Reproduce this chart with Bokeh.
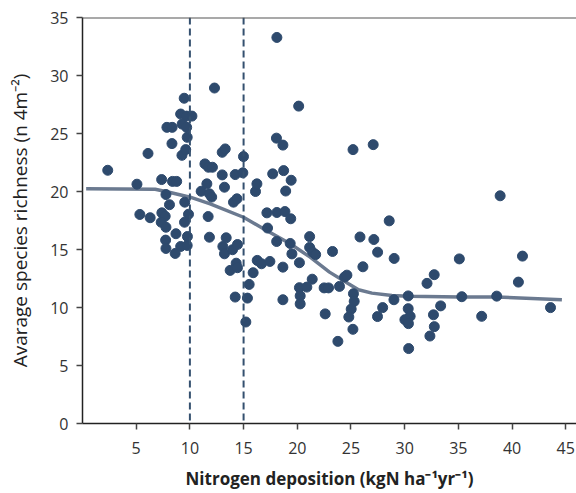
from bokeh.plotting import figure
from bokeh.models import Span, FixedTicker, Range1d
from bokeh.embed import file_html
from bokeh.resources import INLINE

# Data
nitrogen = [
    2.35, 5.07, 5.34, 6.10, 6.30, 7.37, 7.77, 8.10, 7.39, 7.70, 7.33, 7.77, 8.70, 7.74, 7.77,
    8.63, 9.14, 9.75, 9.77, 9.52, 9.87, 9.50, 7.86, 8.35, 8.33, 8.38, 8.77, 9.26, 9.47, 9.14,
    9.70, 10.19, 9.28, 9.70, 9.75, 9.61,
    12.29, 11.05, 11.40, 11.58, 11.73, 12.10, 11.82, 12.03, 13.01, 13.22, 13.01, 13.29, 14.22,
    14.06, 14.38, 14.99, 14.93, 11.70, 16.11, 16.24, 11.82, 13.07, 13.22, 13.38, 13.97, 14.43,
    13.75, 14.31, 14.43, 14.22, 15.21, 15.36, 15.52, 15.89, 16.27, 16.67, 17.45,
    18.10, 20.13, 18.06, 18.66, 17.71, 18.73, 19.43, 18.92, 17.17, 18.10, 18.85, 19.39, 17.23,
    18.08, 19.34, 19.50, 18.66, 18.66, 20.20, 20.20, 20.27, 20.27, 21.15, 21.15, 21.43, 21.71,
    21.39, 20.89, 22.50, 22.91, 23.28, 22.60, 23.93, 24.40, 24.62, 23.78, 25.19, 27.07, 25.84,
    27.13, 27.48, 26.11, 25.23, 25.30, 25.02, 24.80, 25.18, 28.56, 29.02, 29.00, 27.95, 27.47,
    30.33, 30.33, 30.51, 30.02, 30.35, 30.37, 32.08, 32.75, 33.35, 32.68, 32.76, 32.35, 35.09,
    35.32, 37.17, 38.57, 38.89, 40.59, 40.97, 43.58,
]
richness = [
    21.83, 20.63, 18.02, 23.28, 17.74, 21.03, 19.74, 18.86, 18.16, 17.87, 17.35, 16.92, 16.36,
    15.81, 15.09, 14.66, 15.26, 15.35, 16.12, 19.08, 18.04, 17.35, 25.53, 25.53, 24.13, 20.87,
    20.87, 23.12, 28.04, 26.68, 26.50, 26.50, 25.81, 25.53, 24.67, 23.61,
    28.92, 20.02, 22.38, 20.66, 22.09, 22.09, 19.80, 19.52, 21.43, 20.37, 23.38, 23.67, 21.46,
    19.08, 19.37, 23.01, 21.61, 17.84, 20.00, 20.66, 16.06, 15.26, 14.63, 16.01, 14.98, 15.43,
    13.20, 13.82, 13.43, 10.90, 8.75, 10.81, 11.99, 13.00, 14.06, 13.77, 13.97,
    33.28, 27.36, 24.60, 24.00, 21.52, 21.80, 20.97, 20.04, 18.16, 18.19, 18.27, 17.65, 16.85,
    15.69, 15.52, 14.62, 13.48, 10.67, 13.86, 11.71, 11.00, 10.31, 16.11, 15.18, 14.77, 14.56,
    12.44, 11.76, 11.69, 11.69, 14.83, 9.45, 11.82, 12.62, 12.79, 7.08, 23.61, 24.04, 16.08,
    15.86, 14.77, 13.51, 11.19, 10.53, 9.86, 9.18, 8.12, 17.47, 14.23, 10.67, 9.99, 9.22,
    11.00, 9.90, 9.24, 8.95, 8.61, 6.46, 12.08, 12.83, 10.14, 9.37, 8.35, 7.54, 14.19,
    10.93, 9.24, 10.98, 19.63, 12.19, 14.43, 9.99,
]

fit_x = [0.34, 6.77, 8.17, 10.03, 11.89, 14.99, 16.85, 19.34, 21.20, 23.00, 24.77, 25.70,
         26.95, 28.81, 30.35, 35.17, 38.58, 44.64]
fit_y = [20.23, 20.19, 19.91, 19.51, 18.94, 17.78, 16.79, 15.49, 14.34, 13.05, 12.05, 11.53,
         11.24, 11.04, 10.98, 10.90, 10.90, 10.67]

thresholds = [10, 15]
x_ticks = [5, 10, 15, 20, 25, 30, 35, 40, 45]
y_ticks = [0, 5, 10, 15, 20, 25, 30, 35]

DOT = "#2e4a6d"
LINE = "#6b7a90"
FONT = "Open Sans"

p = figure(width=576, height=493, output_backend="svg", toolbar_location=None,
           x_range=Range1d(0, 46), y_range=Range1d(0, 35),
           min_border_left=82, min_border_right=0, min_border_top=17, min_border_bottom=70)
p.outline_line_color = None
p.xgrid.visible = False
p.ygrid.visible = False
p.background_fill_color = "white"

for t in thresholds:
    p.add_layout(Span(location=t, dimension="height", line_color="#34506f",
                      line_width=2, line_dash="7 4"))

p.add_layout(Span(location=35, dimension="width", line_color="#555555", line_width=2))

p.line(fit_x, fit_y, line_color=LINE, line_width=3.5, line_alpha=1.0)
p.scatter(nitrogen, richness, size=10, fill_color=DOT, line_color=DOT)

p.xaxis.ticker = FixedTicker(ticks=x_ticks)
p.yaxis.ticker = FixedTicker(ticks=y_ticks)
for ax in (p.xaxis[0], p.yaxis[0]):
    ax.axis_line_color = "#222222"
    ax.axis_line_width = 1.5
    ax.major_tick_line_color = "#444444"
    ax.major_tick_line_width = 1.5
    ax.major_tick_out = 6
    ax.major_tick_in = 0
    ax.minor_tick_line_color = None
    ax.major_label_text_font = FONT
    ax.major_label_text_font_size = "16px"
    ax.major_label_text_color = "#333333"
    ax.axis_label_text_font = FONT
    ax.axis_label_text_color = "#222222"

p.xaxis.axis_label = "Nitrogen deposition (kgN ha\u207b\u00b9yr\u207b\u00b9)"
p.xaxis.axis_label_text_font_size = "17px"
p.xaxis.axis_label_text_font_style = "bold"
p.xaxis.major_label_standoff = 12
p.xaxis.axis_label_standoff = 10
p.yaxis.axis_label = "Avarage species richness (n 4m\u207b\u00b2)"
p.yaxis.axis_label_text_font_size = "19px"
p.yaxis.axis_label_text_font_style = "normal"
p.yaxis.major_label_standoff = 8
p.yaxis.axis_label_standoff = 14

open("out.html", "w").write(file_html(p, INLINE))
